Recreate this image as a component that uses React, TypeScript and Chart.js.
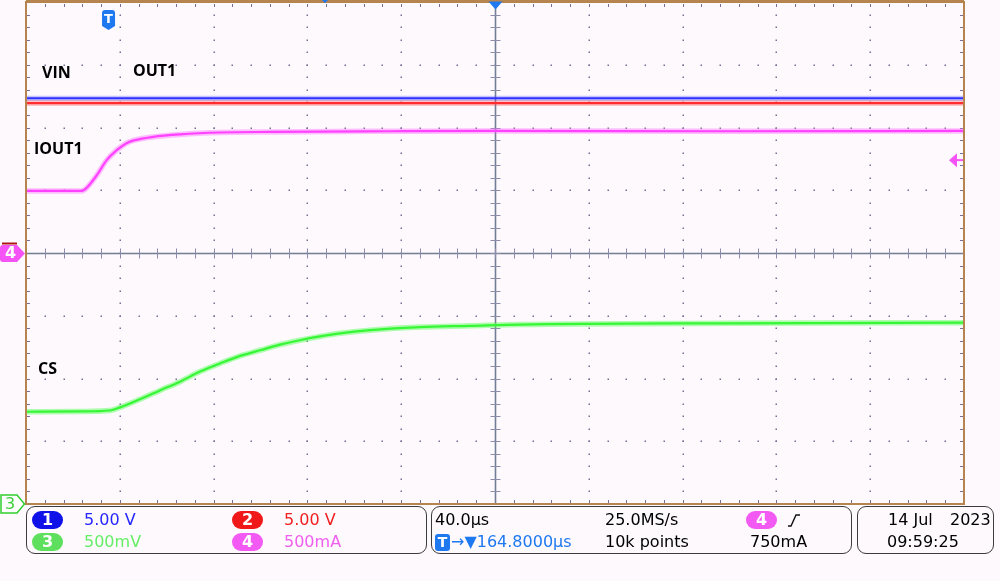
import React, { useEffect, useRef } from "react";
import { Chart, registerables } from "chart.js";

Chart.register(...registerables);

// Horizontal: 40 µs/div, 10 divisions; trigger (t = 0) is 35.2 µs right of the left edge
const TIME_MIN = -35.2;
const TIME_MAX = 364.8;
const TIME_PER_DIV = 40;
const X_DIVS = 10;
// Vertical: screen divisions, centre line = 0
const DIV_MIN = -4;
const DIV_MAX = 4;
const Y_DIVS = 8;
const MINOR = 5;

// Channel 1 (VIN) and channel 2 (OUT1), flat traces (divisions)
const vinTime = [-35.2, 364.8];
const vinDiv = [2.465, 2.465];
const out1Time = [-35.2, 364.8];
const out1Div = [2.39, 2.39];

// Channel 4 (IOUT1), divisions (500 mA/div, ground at centre)
const ioutTime = [-35.2, -22, -11.4, -9.3, -5.0, -0.8, 3.5, 7.7, 10.4, 19.0, 30.5, 47.5, 68.9, 120, 164.4, 260, 364.8];
const ioutDiv = [0.99, 0.99, 0.99, 1.04, 1.24, 1.48, 1.64, 1.75, 1.79, 1.85, 1.89, 1.92, 1.93, 1.94, 1.945, 1.94, 1.945];

// Channel 3 (CS), divisions (500 mV/div, ground at bottom)
const csTime = [-35.2, -12, 0.6, 4.9, 13.4, 21.9, 30.5, 39.0, 47.5, 56.1, 64.6, 73.1, 81.6, 90.2, 98.7, 111.5, 132.8, 154.2, 175.5, 265.0, 364.8];
const csDiv = [-2.53, -2.525, -2.51, -2.46, -2.33, -2.19, -2.05, -1.89, -1.76, -1.64, -1.55, -1.46, -1.39, -1.33, -1.28, -1.23, -1.18, -1.16, -1.14, -1.12, -1.11];

const CH4_GROUND_DIV = 0;
const CH3_GROUND_DIV = -4;
const TRIGGER_TIME = 0;
const TRIGGER_LEVEL_DIV = 1.48;
const CENTER_TIME = 164.8;

const BG = "#fdf9fd";
const BORDER = "#b5844f";
const DOT = "#72729a";
const CENTER = "#737d95";
const TBLUE = "#1e78f0";

const toPoints = (t: number[], v: number[]) => t.map((x, i) => ({ x, y: v[i] }));

function trace(label: string, t: number[], v: number[], core: string, band: string, coreW: number, bandW: number) {
  const base = {
    pointRadius: 0,
    fill: false,
    cubicInterpolationMode: "monotone" as const,
  };
  return [
    { ...base, label: label + " noise", data: toPoints(t, v), borderColor: band, borderWidth: bandW },
    { ...base, label, data: toPoints(t, v), borderColor: core, borderWidth: coreW },
  ];
}

const scopePlugin = {
  id: "scope",
  beforeDatasetsDraw(chart: any) {
    const { ctx, chartArea: a, scales } = chart;
    const xs = scales.x;
    const ys = scales.y;
    const dx = TIME_PER_DIV / MINOR;
    const dy = 1 / MINOR;
    ctx.save();
    ctx.fillStyle = DOT;
    for (let k = 1; k < X_DIVS; k++) {
      if (k === X_DIVS / 2) continue;
      const x = Math.round(xs.getPixelForValue(TIME_MIN + k * TIME_PER_DIV));
      for (let m = 1; m < Y_DIVS * MINOR; m++) {
        const y = Math.round(ys.getPixelForValue(DIV_MAX - m * dy));
        ctx.fillRect(x - 0.5, y - 0.5, 1.5, 1.5);
      }
    }
    for (let j = 1; j < Y_DIVS; j++) {
      if (j === Y_DIVS / 2) continue;
      const y = Math.round(ys.getPixelForValue(DIV_MAX - j));
      for (let m = 1; m < X_DIVS * MINOR; m++) {
        const x = Math.round(xs.getPixelForValue(TIME_MIN + m * dx));
        ctx.fillRect(x - 0.5, y - 0.5, 1.5, 1.5);
      }
    }
    for (let m = 1; m < Y_DIVS * MINOR; m++) {
      const y = Math.round(ys.getPixelForValue(DIV_MAX - m * dy));
      ctx.fillRect(a.left + 1, y, 3, 1);
      ctx.fillRect(a.right - 4, y, 3, 1);
    }
    for (let m = 1; m < X_DIVS * MINOR; m++) {
      const x = Math.round(xs.getPixelForValue(TIME_MIN + m * dx));
      ctx.fillRect(x, a.top + 2, 1, 3);
      ctx.fillRect(x, a.bottom - 4, 1, 3);
    }
    const cx = Math.round(xs.getPixelForValue(CENTER_TIME)) + 0.5;
    const cy = Math.round(ys.getPixelForValue(0)) + 0.5;
    ctx.strokeStyle = CENTER;
    ctx.lineWidth = 1.6;
    ctx.beginPath();
    ctx.moveTo(a.left, cy);
    ctx.lineTo(a.right, cy);
    ctx.moveTo(cx, a.top);
    ctx.lineTo(cx, a.bottom);
    ctx.stroke();
    ctx.fillStyle = "#8c8cab";
    for (let m = 1; m < Y_DIVS * MINOR; m++) {
      const y = Math.round(ys.getPixelForValue(DIV_MAX - m * dy));
      ctx.fillRect(cx - 5, y, 10, 1);
    }
    for (let m = 1; m < X_DIVS * MINOR; m++) {
      const x = Math.round(xs.getPixelForValue(TIME_MIN + m * dx));
      ctx.fillRect(x, cy - 5, 1, 10);
    }
    ctx.restore();
  },
  afterDatasetsDraw(chart: any) {
    const { ctx, chartArea: a, scales } = chart;
    const xs = scales.x;
    const ys = scales.y;
    ctx.save();
    ctx.strokeStyle = BORDER;
    ctx.lineWidth = 2;
    ctx.strokeRect(a.left, a.top, a.right - a.left, a.bottom - a.top);
    ctx.fillStyle = BORDER;
    ctx.fillRect(a.left, 0, a.right - a.left, 2.5);

    const tx = xs.getPixelForValue(TRIGGER_TIME);
    ctx.fillStyle = TBLUE;
    ctx.beginPath();
    ctx.moveTo(tx - 6.5, 13);
    ctx.quadraticCurveTo(tx - 6.5, 10, tx - 3.5, 10);
    ctx.lineTo(tx + 3.5, 10);
    ctx.quadraticCurveTo(tx + 6.5, 10, tx + 6.5, 13);
    ctx.lineTo(tx + 6.5, 26);
    ctx.lineTo(tx, 30);
    ctx.lineTo(tx - 6.5, 26);
    ctx.closePath();
    ctx.fill();
    ctx.fillStyle = "#ffffff";
    ctx.font = "bold 13px 'DejaVu Sans'";
    ctx.textAlign = "center";
    ctx.textBaseline = "middle";
    ctx.fillText("T", tx, 19.5);

    const cx = xs.getPixelForValue(CENTER_TIME) + 0.5;
    ctx.fillStyle = TBLUE;
    ctx.beginPath();
    ctx.moveTo(cx - 7, 1.5);
    ctx.lineTo(cx + 7, 1.5);
    ctx.lineTo(cx, 9.5);
    ctx.closePath();
    ctx.fill();
    ctx.beginPath();
    ctx.moveTo(322, 0);
    ctx.lineTo(328, 0);
    ctx.lineTo(325, 3);
    ctx.closePath();
    ctx.fill();

    const c4 = ys.getPixelForValue(CH4_GROUND_DIV) + 0.5;
    ctx.fillStyle = "#b01515";
    ctx.fillRect(2, c4 - 11, 15, 2);
    ctx.fillStyle = "#f553f5";
    ctx.beginPath();
    ctx.moveTo(3, c4 - 8.5);
    ctx.lineTo(17, c4 - 8.5);
    ctx.lineTo(25, c4);
    ctx.lineTo(17, c4 + 8.5);
    ctx.lineTo(3, c4 + 8.5);
    ctx.quadraticCurveTo(0, c4 + 8.5, 0, c4 + 5.5);
    ctx.lineTo(0, c4 - 5.5);
    ctx.quadraticCurveTo(0, c4 - 8.5, 3, c4 - 8.5);
    ctx.closePath();
    ctx.fill();
    ctx.fillStyle = "#ffffff";
    ctx.font = "bold 16px 'DejaVu Sans'";
    ctx.fillText("4", 10.5, c4 + 0.5);

    const c3 = ys.getPixelForValue(CH3_GROUND_DIV);
    ctx.fillStyle = "#ffffff";
    ctx.strokeStyle = "#2fcf2f";
    ctx.lineWidth = 1.5;
    ctx.beginPath();
    ctx.moveTo(1, c3 - 9);
    ctx.lineTo(17, c3 - 9);
    ctx.lineTo(24.5, c3);
    ctx.lineTo(17, c3 + 9);
    ctx.lineTo(1, c3 + 9);
    ctx.closePath();
    ctx.fill();
    ctx.stroke();
    ctx.fillStyle = "#3ccf3c";
    ctx.font = "16px 'DejaVu Sans'";
    ctx.fillText("3", 10, c3 + 0.5);

    const tl = ys.getPixelForValue(TRIGGER_LEVEL_DIV);
    ctx.fillStyle = "#f553f5";
    ctx.beginPath();
    ctx.moveTo(a.right - 15, tl);
    ctx.lineTo(a.right - 7, tl - 7);
    ctx.lineTo(a.right - 7, tl + 7);
    ctx.closePath();
    ctx.fill();
    ctx.fillRect(a.right - 8, tl - 1, 7, 2);
    ctx.restore();
  },
};

const datasets = [
  ...trace("VIN", vinTime, vinDiv, "#2323ff", "rgba(80,80,255,0.32)", 2, 5),
  ...trace("OUT1", out1Time, out1Div, "#ff1c1c", "rgba(255,80,80,0.32)", 2.2, 6),
  ...trace("IOUT1", ioutTime, ioutDiv, "#ff2cff", "rgba(255,100,255,0.4)", 2.2, 5.5),
  ...trace("CS", csTime, csDiv, "#22ee22", "rgba(80,255,80,0.45)", 2.2, 5.5),
];

const panelFont = "'DejaVu Sans', sans-serif";
const labelFont = "'Open Sans', sans-serif";

function Txt(props: { x: number; cy: number; color?: string; size?: number; bold?: boolean; family?: string; children: React.ReactNode }) {
  const size = props.size ?? 16;
  return (
    <div
      style={{
        position: "absolute",
        left: props.x,
        top: props.cy - 10,
        height: 20,
        lineHeight: "20px",
        fontSize: size,
        fontFamily: props.family ?? panelFont,
        fontWeight: props.bold ? 700 : 400,
        color: props.color ?? "#000",
        whiteSpace: "pre",
      }}
    >
      {props.children}
    </div>
  );
}

function Pill(props: { x: number; cy: number; color: string; text: string }) {
  return (
    <div
      style={{
        position: "absolute",
        left: props.x,
        top: props.cy - 9,
        width: 31,
        height: 18,
        borderRadius: 9,
        background: props.color,
        color: "#fff",
        fontFamily: panelFont,
        fontWeight: 700,
        fontSize: 16,
        lineHeight: "18px",
        textAlign: "center",
      }}
    >
      {props.text}
    </div>
  );
}

function Box(props: { x: number; w: number }) {
  return (
    <div
      style={{
        position: "absolute",
        left: props.x,
        top: 506,
        width: props.w,
        height: 48,
        boxSizing: "border-box",
        border: "1.5px solid #3c3c3c",
        borderRadius: 9,
      }}
    />
  );
}

export default function App() {
  const ref = useRef<HTMLCanvasElement>(null);
  useEffect(() => {
    const canvas = ref.current!;
    const chart = new Chart(canvas, {
      type: "line",
      data: { datasets: datasets as any },
      options: {
        responsive: false,
        animation: false,
        devicePixelRatio: 1,
        events: [],
        layout: { padding: { left: 26, top: 2, right: 36, bottom: 77 } },
        scales: {
          x: { type: "linear", min: TIME_MIN, max: TIME_MAX, display: false },
          y: { type: "linear", min: DIV_MIN, max: DIV_MAX, display: false },
        },
        plugins: { legend: { display: false }, tooltip: { enabled: false } },
      },
      plugins: [scopePlugin],
    });
    return () => chart.destroy();
  }, []);

  const r1 = 520;
  const r2 = 542;
  return (
    <div style={{ position: "absolute", left: 0, top: 0, width: 1000, height: 581, background: BG, overflow: "hidden" }}>
      <canvas ref={ref} width={1000} height={581} style={{ position: "absolute", left: 0, top: 0 }} />
      <Txt x={42} cy={72} bold size={16} family={labelFont}>VIN</Txt>
      <Txt x={133} cy={70} bold size={16} family={labelFont}>OUT1</Txt>
      <Txt x={34} cy={148} bold size={16} family={labelFont}>IOUT1</Txt>
      <Txt x={38} cy={368} bold size={16} family={labelFont}>CS</Txt>

      <Box x={26} w={401} />
      <Box x={431} w={421} />
      <Box x={857} w={137} />

      <Pill x={32} cy={r1} color="#1010e8" text="1" />
      <Txt x={84} cy={r1} color="#2626ff">5.00 V</Txt>
      <Pill x={232} cy={r1} color="#f01818" text="2" />
      <Txt x={284} cy={r1} color="#f02020">5.00 V</Txt>
      <Pill x={32} cy={r2} color="#5ee05e" text="3" />
      <Txt x={84} cy={r2} color="#66ee66">500mV</Txt>
      <Pill x={232} cy={r2} color="#f35af3" text="4" />
      <Txt x={284} cy={r2} color="#f05ef0">500mA</Txt>

      <Txt x={435} cy={r1}>40.0µs</Txt>
      <Txt x={605} cy={r1}>25.0MS/s</Txt>
      <Pill x={746} cy={r1} color="#f35af3" text="4" />
      <svg style={{ position: "absolute", left: 787, top: 513 }} width={14} height={15}>
        <path d="M1 13 L4 13 L9 2 L13 2" stroke="#111" strokeWidth={1.4} fill="none" />
      </svg>
      <div
        style={{
          position: "absolute",
          left: 435,
          top: r2 - 8,
          width: 15,
          height: 17,
          borderRadius: 3,
          background: TBLUE,
          color: "#fff",
          fontFamily: panelFont,
          fontWeight: 700,
          fontSize: 14,
          lineHeight: "17px",
          textAlign: "center",
        }}
      >
        T
      </div>
      <Txt x={451} cy={r2} color={TBLUE}>→▼164.8000µs</Txt>
      <Txt x={605} cy={r2}>10k points</Txt>
      <Txt x={750} cy={r2}>750mA</Txt>

      <Txt x={888} cy={r1}>14 Jul</Txt>
      <Txt x={950} cy={r1}>2023</Txt>
      <Txt x={887} cy={r2}>09:59:25</Txt>
    </div>
  );
}
